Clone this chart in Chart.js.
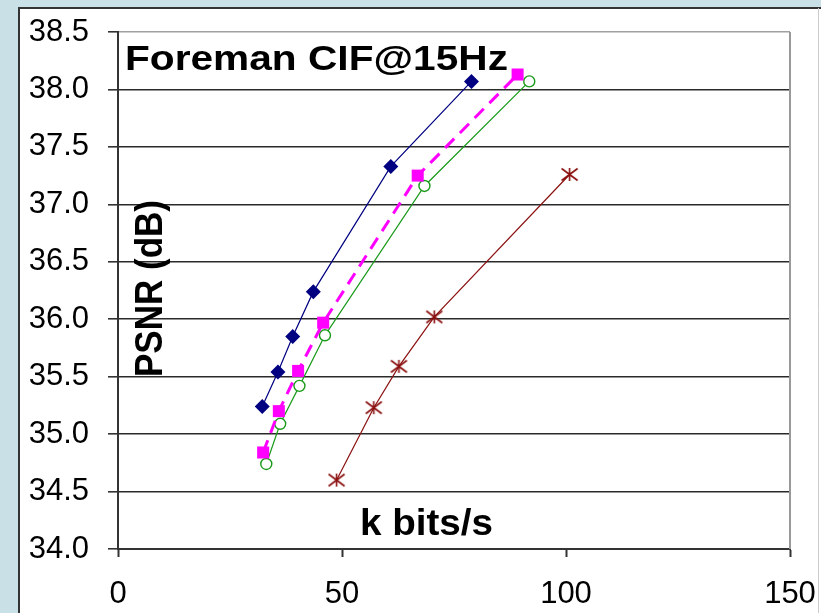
<!DOCTYPE html>
<html>
<head>
<meta charset="utf-8">
<title>Foreman CIF@15Hz</title>
<script src="https://cdn.jsdelivr.net/npm/chart.js@4/dist/chart.umd.min.js"></script>
<style>
  html, body { margin: 0; padding: 0; background: #c8e0e6; }
  #wrap { position: absolute; left: 0; top: 0; width: 821px; height: 613px; }
</style>
</head>
<body>
<div id="wrap"><canvas id="rdChart" width="821" height="613"></canvas></div>
<script>
// Rate-distortion curves, PSNR vs bitrate
const xTicks = [0, 50, 100, 150];
const yTicks = [34.0, 34.5, 35.0, 35.5, 36.0, 36.5, 37.0, 37.5, 38.0, 38.5];

const rateBlue = [32.2, 35.7, 39.0, 43.6, 60.9, 78.9];
const psnrBlue = [35.24, 35.54, 35.85, 36.24, 37.33, 38.07];

const ratePink = [32.4, 35.9, 40.2, 45.8, 66.9, 89.2];
const psnrPink = [34.84, 35.20, 35.55, 35.97, 37.25, 38.13];

const rateGreen = [33.1, 36.2, 40.5, 46.2, 68.4, 91.8];
const psnrGreen = [34.74, 35.09, 35.42, 35.86, 37.16, 38.07];

const rateRed = [48.8, 57.1, 62.7, 70.6, 100.8];
const psnrRed = [34.60, 35.23, 35.59, 36.02, 37.26];

const FONT = '"Liberation Sans", Arial, sans-serif';

function pts(xs, ys) {
  return xs.map((x, i) => ({ x: x, y: ys[i] }));
}

// X with a vertical stroke, used as the marker of the red series
function starMarker(color, size) {
  const c = document.createElement('canvas');
  c.width = size;
  c.height = size;
  const g = c.getContext('2d');
  const m = size / 2, r = size / 2 - 1.5;
  g.strokeStyle = color;
  g.lineWidth = 1.6;
  g.beginPath();
  g.moveTo(m - r, m - r * 0.75); g.lineTo(m + r, m + r * 0.75);
  g.moveTo(m - r, m + r * 0.75); g.lineTo(m + r, m - r * 0.75);
  g.moveTo(m, m - r * 0.8); g.lineTo(m, m + r * 0.8);
  g.stroke();
  return c;
}

// draw text stretched to a given width
function drawFitted(ctx, text, x, y, width, sy) {
  const w = ctx.measureText(text).width;
  ctx.save();
  ctx.translate(x, y);
  ctx.scale(width / w, sy);
  ctx.fillText(text, 0, 0);
  ctx.restore();
}

const frame = {
  id: 'frame',
  beforeDraw(chart) {
    const ctx = chart.ctx;
    ctx.save();
    ctx.fillStyle = '#c8e0e6';
    ctx.fillRect(0, 0, chart.width, chart.height);
    ctx.fillStyle = '#ffffff';
    ctx.fillRect(18, 7, chart.width - 18, chart.height - 7);
    ctx.strokeStyle = '#333333';
    ctx.lineWidth = 2;
    ctx.beginPath();
    ctx.moveTo(19, chart.height);
    ctx.lineTo(19, 8);
    ctx.lineTo(chart.width, 8);
    ctx.stroke();
    ctx.strokeStyle = '#cccccc';
    ctx.lineWidth = 1;
    ctx.beginPath();
    ctx.moveTo(818.5, 8);
    ctx.lineTo(818.5, chart.height);
    ctx.stroke();
    ctx.restore();
  },
  beforeDatasetsDraw(chart) {
    const ctx = chart.ctx;
    const a = chart.chartArea;
    ctx.save();
    ctx.strokeStyle = '#999999';
    ctx.lineWidth = 2;
    ctx.beginPath();
    ctx.moveTo(a.right, a.top);
    ctx.lineTo(a.right, a.bottom);
    ctx.stroke();
    ctx.restore();
  },
  afterDraw(chart) {
    const ctx = chart.ctx;
    ctx.save();
    ctx.fillStyle = '#000000';
    ctx.textBaseline = 'alphabetic';
    ctx.textAlign = 'left';
    ctx.font = 'bold 35px ' + FONT;
    drawFitted(ctx, 'Foreman CIF@15Hz', 125, 70, 383, 1);
    ctx.font = 'bold 36px ' + FONT;
    drawFitted(ctx, 'k bits/s', 360, 535, 133, 1);
    // rotated axis title
    ctx.font = 'bold 35px ' + FONT;
    ctx.translate(162, 377);
    ctx.rotate(-Math.PI / 2);
    drawFitted(ctx, 'PSNR (dB)', 0, 0, 177, 1.1);
    ctx.restore();
  }
};

const ctx = document.getElementById('rdChart').getContext('2d');
new Chart(ctx, {
  type: 'scatter',
  data: {
    datasets: [
      {
        label: 'Blue',
        data: pts(rateBlue, psnrBlue),
        showLine: true,
        borderColor: '#000080',
        backgroundColor: '#000080',
        borderWidth: 1.2,
        pointStyle: 'rectRot',
        pointRadius: 7.5,
        pointBorderWidth: 0
      },
      {
        label: 'Pink',
        data: pts(ratePink, psnrPink),
        showLine: true,
        borderColor: '#ff00ff',
        backgroundColor: '#ff00ff',
        borderWidth: 3,
        borderDash: [13, 8],
        pointStyle: 'rect',
        pointRadius: 8.5,
        pointBorderWidth: 0
      },
      {
        label: 'Green',
        data: pts(rateGreen, psnrGreen),
        showLine: true,
        borderColor: '#1a9a1a',
        backgroundColor: '#ffffff',
        borderWidth: 1.2,
        pointStyle: 'circle',
        pointRadius: 5.5,
        pointBorderWidth: 1.4
      },
      {
        label: 'Red',
        data: pts(rateRed, psnrRed),
        showLine: true,
        borderColor: '#8b1010',
        backgroundColor: '#8b1010',
        borderWidth: 1.2,
        pointStyle: starMarker('#8b1010', 19),
        pointRadius: 8,
        pointBorderWidth: 1.6
      }
    ]
  },
  options: {
    responsive: false,
    animation: false,
    events: [],
    layout: { padding: { left: 0, top: 32, right: 31, bottom: 0 } },
    plugins: {
      legend: { display: false },
      tooltip: { enabled: false }
    },
    scales: {
      x: {
        type: 'linear',
        min: 0,
        max: 150,
        afterFit: s => {
          s.height = 64;
          s.paddingLeft = 0;
          s.paddingRight = 0;
        },
        afterBuildTicks: s => { s.ticks = xTicks.map(v => ({ value: v })); },
        ticks: {
          color: '#000',
          font: { family: FONT, size: 31 },
          padding: 19,
          maxRotation: 0
        },
        grid: {
          drawOnChartArea: false,
          drawTicks: true,
          tickLength: 8,
          tickColor: '#333333',
          tickWidth: 2
        },
        border: { color: '#333333', width: 2 }
      },
      y: {
        type: 'linear',
        min: 34,
        max: 38.5,
        afterFit: s => {
          s.width = 118;
          s.paddingTop = 0;
          s.paddingBottom = 0;
        },
        afterBuildTicks: s => { s.ticks = yTicks.map(v => ({ value: v })); },
        ticks: {
          color: '#000',
          font: { family: FONT, size: 31 },
          padding: 19,
          callback: v => v.toFixed(1)
        },
        grid: {
          color: c => (c.tick && c.tick.value === 38.5 ? '#a0a0a0' : '#2a2a2a'),
          lineWidth: 1.6,
          tickLength: 10,
          tickColor: '#333333',
          tickWidth: 1.6
        },
        border: { color: '#333333', width: 2 }
      }
    }
  },
  plugins: [frame]
});
</script>
</body>
</html>
